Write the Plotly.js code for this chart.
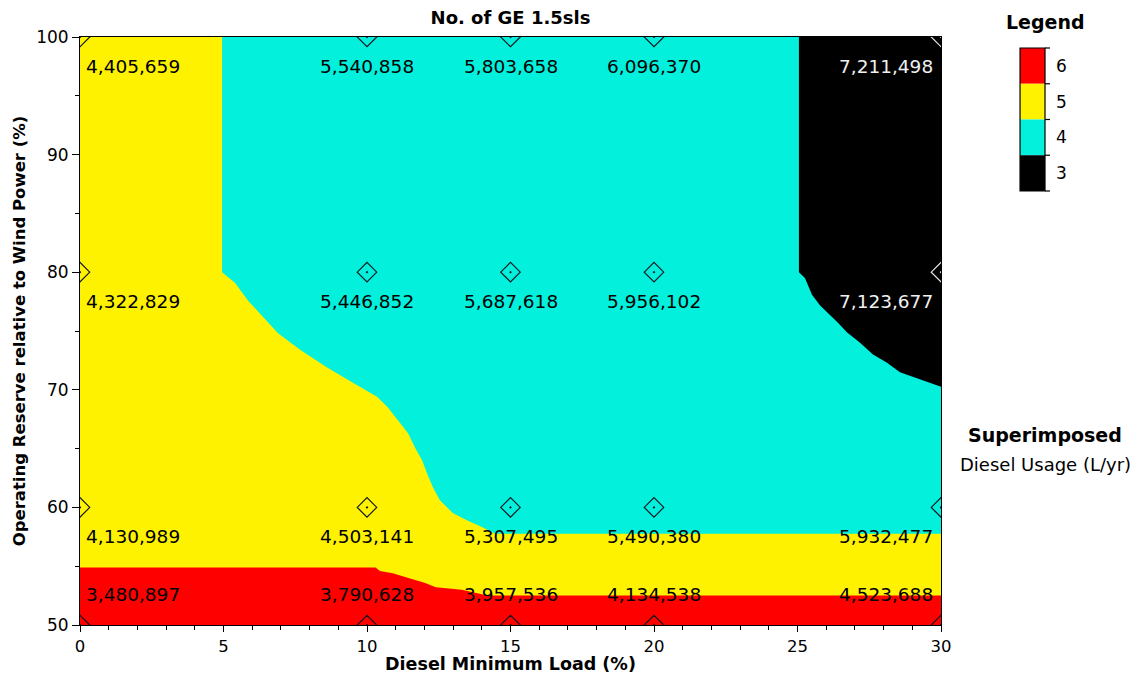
<!DOCTYPE html>
<html>
<head>
<meta charset="utf-8">
<script src="https://cdn.plot.ly/plotly-3.0.1.min.js"></script>
<style>
  html, body { margin: 0; padding: 0; background: #ffffff; }
  #chart { width: 1140px; height: 674px; }
</style>
</head>
<body>
<div id="chart"></div>
<script>
// Sensitivity grid: diesel minimum load (%) against operating reserve (%)
const loadPct = [0, 10, 15, 20, 30];
const reservePct = [100, 80, 60, 50];

// Annual diesel usage (L/yr), one row per reserve level
const usage100 = [4405659, 5540858, 5803658, 6096370, 7211498];
const usage80  = [4322829, 5446852, 5687618, 5956102, 7123677];
const usage60  = [4130989, 4503141, 5307495, 5490380, 5932477];
const usage50  = [3480897, 3790628, 3957536, 4134538, 4523688];

// Optimal number of GE 1.5sls turbines at each grid point
const ge100 = [5, 4, 4, 4, 3];
const ge80  = [5, 4, 4, 4, 3];
const ge60  = [5, 5, 4, 4, 4];
const ge50  = [6, 6, 6, 6, 6];

const loadRange = [0, 30];
const reserveRange = [50, 100];

// Boundary between the 6-turbine and 5-turbine regions
const edge65Load    = [0, 10.3, 10.45, 10.9, 11.3, 11.7, 12.0, 12.4, 13.3, 14.2, 30];
const edge65Reserve = [54.9, 54.9, 54.6, 54.4, 54.1, 53.8, 53.6, 53.2, 53.0, 52.5, 52.5];
// Boundary between the 5-turbine and 4-turbine regions (top to bottom)
const edge54Load    = [4.95, 4.95, 5.4, 5.85, 6.38, 6.9, 7.67, 8.61, 9.51, 10.35, 10.73, 11.08,
                       11.43, 11.67, 11.92, 12.09, 12.3, 12.54, 13.0, 13.48, 14.04, 14.46, 30];
const edge54Reserve = [100, 80, 79.1, 77.6, 76.2, 74.8, 73.4, 71.9, 70.6, 69.4, 68.5, 67.4,
                       66.3, 65.1, 64.0, 62.9, 61.7, 60.6, 59.5, 58.9, 58.3, 57.75, 57.75];
// Boundary between the 4-turbine and 3-turbine regions
const edge43Load    = [25.05, 25.05, 25.26, 25.5, 25.78, 26.13, 26.41, 26.72, 27.18, 27.63,
                       28.12, 28.57, 29.02, 29.51, 30];
const edge43Reserve = [100, 80, 79.5, 78.1, 77.2, 76.4, 75.7, 74.9, 74.0, 73.0,
                       72.3, 71.5, 71.1, 70.7, 70.25];

const legendCounts = [6, 5, 4, 3];
const countColors = { 6: '#ff0000', 5: '#fff200', 4: '#02f0dc', 3: '#000000' };

const usageRows = [usage100, usage80, usage60, usage50];
const geRows = [ge100, ge80, ge60, ge50];

const FONT = 'DejaVu Sans, Verdana, sans-serif';

function regionTrace(xs, ys, count) {
  return {
    type: 'scatter', mode: 'lines', x: xs, y: ys,
    fill: 'toself', fillcolor: countColors[count],
    line: { width: 0, color: countColors[count] },
    hoverinfo: 'skip', showlegend: false
  };
}

const [x0, x1] = loadRange;
const [y0, y1] = reserveRange;

const traces = [
  // 5 turbines: base region over the whole grid
  regionTrace([x0, x1, x1, x0], [y0, y0, y1, y1], 5),
  // 4 turbines
  regionTrace(edge54Load.concat([x1]), edge54Reserve.concat([y1]), 4),
  // 3 turbines
  regionTrace(edge43Load.concat([x1]), edge43Reserve.concat([y1]), 3),
  // 6 turbines
  regionTrace(edge65Load.concat([x1, x0]), edge65Reserve.concat([y0, y0]), 6)
];

// Grid point markers
const px = [], py = [], pc = [];
reservePct.forEach((r, i) => {
  loadPct.forEach((l, j) => {
    px.push(l); py.push(r);
    pc.push(geRows[i][j] === 3 ? '#e8e8e8' : '#101820');
  });
});
traces.push({
  type: 'scatter', mode: 'markers', x: px, y: py,
  marker: { symbol: 'diamond-open-dot', size: 15, color: pc, line: { width: 1.2, color: pc } },
  cliponaxis: true, hoverinfo: 'skip', showlegend: false
});

// Superimposed diesel usage labels
const fmt = v => v.toLocaleString('en-US');
const annotations = [];
reservePct.forEach((r, i) => {
  loadPct.forEach((l, j) => {
    const atLeft = l === x0, atRight = l === x1;
    annotations.push({
      x: l, y: r, xref: 'x', yref: 'y',
      text: fmt(usageRows[i][j]), showarrow: false,
      xanchor: atLeft ? 'left' : (atRight ? 'right' : 'center'),
      yanchor: 'middle',
      xshift: atLeft ? 4 : (atRight ? -6 : 0),
      yshift: r === y0 ? 31 : -29,
      font: { family: FONT, size: 18.5, color: geRows[i][j] === 3 ? '#f0f0f0' : '#000000' }
    });
  });
});

// Legend: turbine count colour key
const shapes = [];
const boxL = 1.0918, boxR = 1.1208, boxTop = 0.9813, boxH = 0.0608, tickW = 0.0058;
legendCounts.forEach((c, k) => {
  const top = boxTop - k * boxH, bot = top - boxH;
  shapes.push({ type: 'rect', xref: 'paper', yref: 'paper', x0: boxL, x1: boxR, y0: bot, y1: top,
    fillcolor: countColors[c], line: { width: 0 } });
  annotations.push({ xref: 'paper', yref: 'paper', x: boxR + 0.011, y: (top + bot) / 2,
    xanchor: 'left', yanchor: 'middle', text: String(c), showarrow: false,
    font: { family: FONT, size: 17, color: '#000' } });
});
shapes.push({ type: 'rect', xref: 'paper', yref: 'paper', x0: boxL, x1: boxR,
  y0: boxTop - legendCounts.length * boxH, y1: boxTop, line: { width: 1.2, color: '#000' } });
for (let k = 0; k <= legendCounts.length; k++) {
  const yy = boxTop - k * boxH;
  shapes.push({ type: 'line', xref: 'paper', yref: 'paper', x0: boxR, x1: boxR + tickW, y0: yy, y1: yy,
    line: { width: 1.2, color: '#000' } });
}
annotations.push(
  { xref: 'paper', yref: 'paper', x: 1.1208, y: 1.0255, xanchor: 'center', yanchor: 'middle',
    text: '<b>Legend</b>', showarrow: false, font: { family: FONT, size: 19, color: '#000' } },
  { xref: 'paper', yref: 'paper', x: 1.121, y: 0.323, xanchor: 'center', yanchor: 'middle',
    text: '<b>Superimposed</b>', showarrow: false, font: { family: FONT, size: 19, color: '#000' } },
  { xref: 'paper', yref: 'paper', x: 1.121, y: 0.2738, xanchor: 'center', yanchor: 'middle',
    text: 'Diesel Usage (L/yr)', showarrow: false, font: { family: FONT, size: 18, color: '#000' } }
);

const axisCommon = {
  showgrid: false, zeroline: false, showline: true, mirror: true,
  linecolor: '#000', linewidth: 1, ticks: 'outside', tickcolor: '#000', ticklen: 7, tickwidth: 1,
  tickfont: { family: FONT, size: 17, color: '#000' }
};

const layout = {
  width: 1140, height: 674,
  paper_bgcolor: '#ffffff', plot_bgcolor: '#ffffff',
  margin: { l: 80, r: 199, t: 37, b: 49, pad: 0 },
  showlegend: false,
  title: { text: '<b>No. of GE 1.5sls</b>', x: 0.5, xref: 'paper', xanchor: 'center',
    y: 1 - 18 / 674, yref: 'container', yanchor: 'middle',
    font: { family: FONT, size: 18, color: '#000' } },
  xaxis: Object.assign({}, axisCommon, {
    range: loadRange, dtick: 5, tick0: 0, ticklen: 6,
    tickfont: { family: FONT, size: 16.5, color: '#000' },
    minor: { dtick: 1, ticks: 'outside', ticklen: 4, tickcolor: '#000' },
    title: { text: '<b>Diesel Minimum Load (%)</b>', standoff: 6,
      font: { family: FONT, size: 17.5, color: '#000' } }
  }),
  yaxis: Object.assign({}, axisCommon, {
    range: reserveRange, dtick: 10, tick0: 50,
    minor: { dtick: 5, ticks: 'outside', ticklen: 4, tickcolor: '#000' },
    title: { text: '<b>Operating Reserve relative to Wind Power (%)</b>', standoff: 6,
      font: { family: FONT, size: 16.5, color: '#000' } }
  }),
  shapes: shapes,
  annotations: annotations
};

Plotly.newPlot('chart', traces, layout, { staticPlot: true, displayModeBar: false });
</script>
</body>
</html>
